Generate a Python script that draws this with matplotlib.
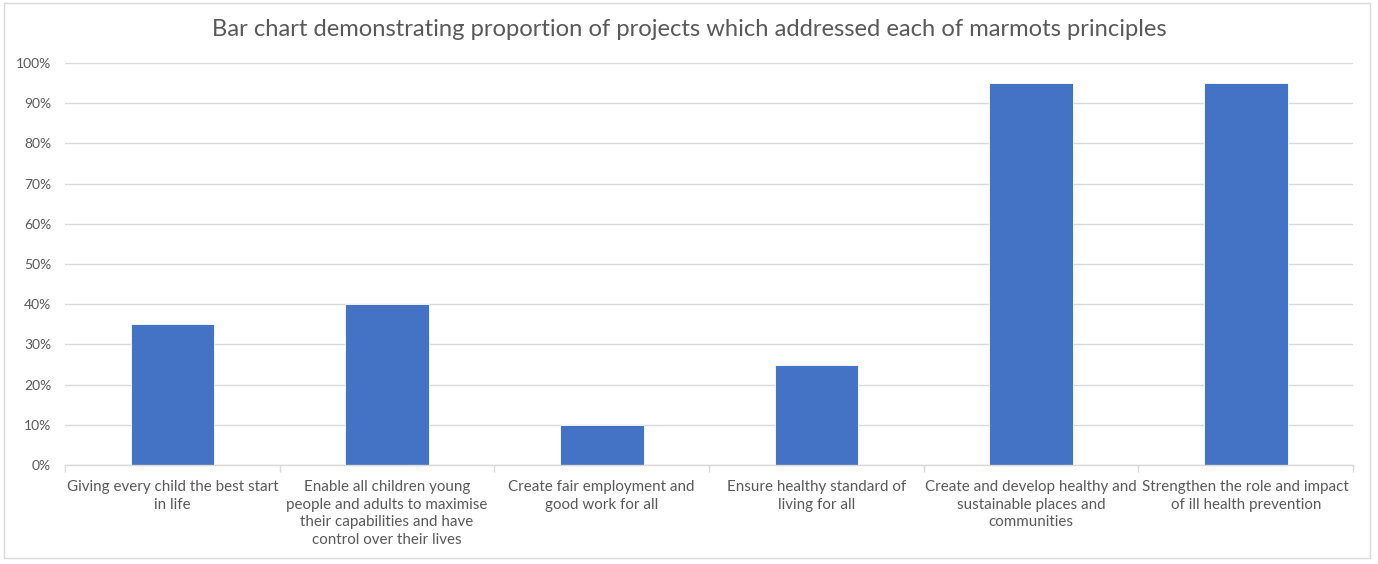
import matplotlib
matplotlib.use("Agg")
import matplotlib.pyplot as plt
from matplotlib.patches import Rectangle
from matplotlib.ticker import FixedLocator, PercentFormatter

categories = [
    "Giving every child the best start\nin life",
    "Enable all children young\npeople and adults to maximise\ntheir capabilities and have\ncontrol over their lives",
    "Create fair employment and\ngood work for all",
    "Ensure healthy standard of\nliving for all",
    "Create and develop healthy and\nsustainable places and\ncommunities",
    "Strengthen the role and impact\nof ill health prevention",
]
values = [0.35, 0.40, 0.10, 0.25, 0.95, 0.95]
yticks = [0.0, 0.1, 0.2, 0.3, 0.4, 0.5, 0.6, 0.7, 0.8, 0.9, 1.0]
title = "Bar chart demonstrating proportion of projects which addressed each of marmots principles"

FONT = ["Lato", "DejaVu Sans"]
TXT = "#595959"
GRID = "#d9d9d9"

fig = plt.figure(figsize=(13.78, 5.64), dpi=100)
fig.patch.set_facecolor("white")
fig.patches.append(Rectangle((0.003, 0.011), 0.991, 0.984, transform=fig.transFigure,
                             fill=False, edgecolor="#d9d9d9", linewidth=1.0))

ax = fig.add_axes([0.0472, 0.1755, 0.9347, 0.7128])
x = list(range(len(categories)))
ax.bar(x, values, width=0.39, color="#4472C4", edgecolor="white", linewidth=0.6, zorder=3)

ax.set_xlim(-0.5, len(categories) - 0.5)
ax.set_ylim(0, 1.0)
ax.yaxis.set_major_locator(FixedLocator(yticks))
ax.yaxis.set_major_formatter(PercentFormatter(1.0, decimals=0))
ax.grid(axis="y", color=GRID, linewidth=1.0, zorder=0)
ax.set_axisbelow(True)
for s in ["top", "right", "left"]:
    ax.spines[s].set_visible(False)
ax.spines["bottom"].set_color(GRID)
ax.spines["bottom"].set_linewidth(1.0)
ax.spines["bottom"].set_zorder(4)

ax.set_xticks(x)
ax.set_xticklabels(categories, fontsize=10.9, color=TXT, family=FONT, linespacing=1.32)
ax.tick_params(axis="x", length=0, pad=11)
ax.set_xticks([i - 0.5 for i in range(len(categories) + 1)], minor=True)
ax.tick_params(axis="x", which="minor", length=5, color=GRID, width=1)
ax.tick_params(axis="y", length=0, pad=10, labelsize=10, labelcolor=TXT)
for lab in ax.get_yticklabels():
    lab.set_family(FONT)

fig.text(0.5, 0.948, title, ha="center", va="center", fontsize=17.1, color=TXT, family=FONT)

fig.savefig("out.png", dpi=100, facecolor="white")
